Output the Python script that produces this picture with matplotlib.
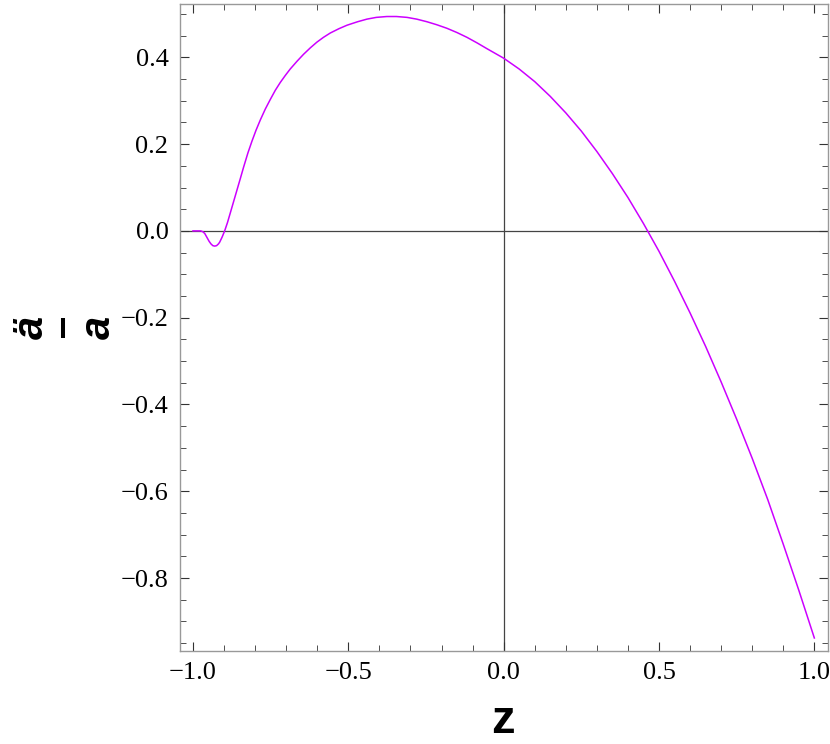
import matplotlib
matplotlib.use("Agg")
import matplotlib.pyplot as plt
from matplotlib.ticker import MultipleLocator, FuncFormatter
from matplotlib.lines import Line2D

z_vals = [-1.0, -0.985, -0.975, -0.968, -0.962, -0.955, -0.948, -0.942, -0.936, -0.930,
          -0.924, -0.918, -0.914, -0.906, -0.898, -0.889, -0.880, -0.869, -0.858, -0.847,
          -0.837, -0.823, -0.810, -0.797, -0.783, -0.767, -0.751, -0.735, -0.719, -0.703,
          -0.687, -0.665, -0.644, -0.622, -0.601, -0.580, -0.558, -0.530, -0.504, -0.470,
          -0.440, -0.410, -0.376, -0.345, -0.311, -0.280, -0.247, -0.215, -0.183, -0.150,
          -0.118, -0.085, -0.054, -0.027, 0.0, 0.05, 0.10, 0.15, 0.20, 0.25,
          0.30, 0.35, 0.40, 0.45, 0.50, 0.55, 0.60, 0.65, 0.70, 0.75,
          0.80, 0.85, 0.90, 0.95, 1.0]
acc_vals = [0.0, 0.0, 0.0, -0.002, -0.006, -0.015, -0.024, -0.030, -0.034, -0.035,
            -0.034, -0.030, -0.026, -0.014, 0.0, 0.019, 0.041, 0.068, 0.095, 0.122,
            0.147, 0.180, 0.207, 0.232, 0.256, 0.281, 0.303, 0.324, 0.342, 0.358,
            0.373, 0.391, 0.407, 0.422, 0.435, 0.446, 0.456, 0.466, 0.474, 0.482,
            0.488, 0.492, 0.494, 0.494, 0.492, 0.488, 0.482, 0.475, 0.467, 0.457,
            0.446, 0.433, 0.420, 0.409, 0.398, 0.373, 0.344, 0.310, 0.272, 0.230,
            0.183, 0.132, 0.077, 0.017, -0.047, -0.116, -0.189, -0.266, -0.348, -0.434,
            -0.524, -0.619, -0.722, -0.828, -0.938]

x_major = [-1.0, -0.5, 0.0, 0.5, 1.0]
y_major = [-0.8, -0.6, -0.4, -0.2, 0.0, 0.2, 0.4]

W, H = 830, 744
fig = plt.figure(figsize=(W / 100, H / 100), dpi=100)
ax = fig.add_axes([179.6 / W, 1 - 651 / H, (827.7 - 179.6) / W, (651 - 3.5) / H])

ax.axhline(0, color='#444444', lw=0.9, zorder=1)
ax.axvline(0, color='#444444', lw=0.9, zorder=1)
ax.plot(z_vals, acc_vals, color='#cc00ff', lw=1.1, zorder=3)

ax.set_xlim(-1.043, 1.043)
ax.set_ylim(-0.968, 0.524)

fmt = FuncFormatter(lambda v, p: ('%.1f' % v).replace('-', '\u2212'))
ax.set_xticks(x_major)
ax.set_yticks(y_major)
ax.xaxis.set_minor_locator(MultipleLocator(0.1))
ax.yaxis.set_minor_locator(MultipleLocator(0.05))
ax.xaxis.set_major_formatter(fmt)
ax.yaxis.set_major_formatter(fmt)

ax.tick_params(which='both', direction='in', top=True, right=True, color='#333333')
ax.tick_params(which='major', length=6.5, width=0.8, pad=8)
ax.tick_params(which='minor', length=4.5, width=0.6)
for lab in ax.get_xticklabels() + ax.get_yticklabels():
    lab.set_fontfamily('Liberation Serif')
    lab.set_fontsize(19)

for s in ax.spines.values():
    s.set_color('#999999')
    s.set_linewidth(1.0)

# x label "z"
fig.text(503 / W, 1 - 733 / H, 'z', fontfamily='Liberation Sans', fontweight='bold',
         fontsize=34, ha='center', va='baseline')

# y label: fraction a-double-dot over a, rotated
lab_kw = dict(fontfamily='Liberation Sans', fontweight='bold', fontstyle='italic',
              fontsize=30, rotation=90, rotation_mode='anchor', ha='center', va='baseline')
fig.text(42.7 / W, 1 - 327 / H, '\u00e4', **lab_kw)
fig.text(110 / W, 1 - 327 / H, 'a', **lab_kw)
fig.add_artist(Line2D([63 / W, 63 / W], [1 - 318 / H, 1 - 338 / H],
                      transform=fig.transFigure, color='black', lw=2.9,
                      solid_capstyle='butt'))

fig.savefig('out.png', dpi=100)
